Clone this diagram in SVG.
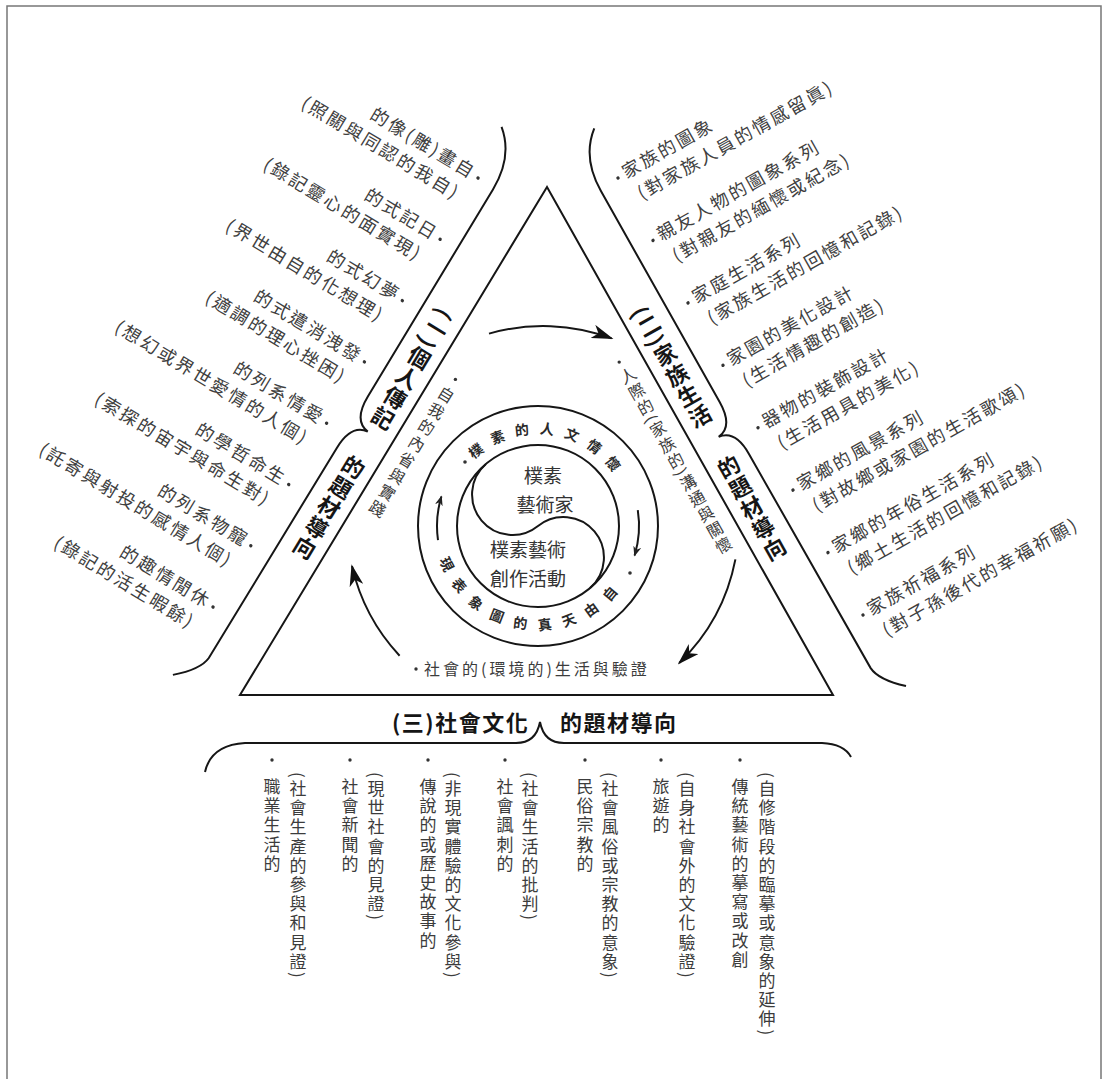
<svg xmlns="http://www.w3.org/2000/svg" width="1108" height="1079" viewBox="0 0 1108 1079">
<defs>
<style>
text{font-family:"Noto Sans CJK TC","Noto Sans CJK SC",sans-serif}
.lst{font-size:18px;fill:#404040;letter-spacing:2.5px}
.lbl{font-size:22px;font-weight:700;fill:#151515;letter-spacing:1.5px}
.vt{writing-mode:vertical-rl}
.col{font-size:17px;fill:#3c3c3c;letter-spacing:2.2px}
.in{font-size:16px;fill:#3c3c3c}
.ring{font-size:14px;font-weight:700;fill:#2a2a2a}
.ctr{font-size:19px;fill:#333;text-anchor:middle}
.ln{fill:none;stroke:#161616;stroke-width:2}
.dot{fill:#333}
</style>
<marker id="ah" viewBox="0 0 22 14" refX="20" refY="7" markerWidth="22" markerHeight="14" markerUnits="userSpaceOnUse" orient="auto"><path d="M0,0 L22,7 L0,14 L6,7 Z" fill="#111"/></marker>
<marker id="ahs" viewBox="0 0 10 8" refX="9" refY="4" markerWidth="10" markerHeight="8" markerUnits="userSpaceOnUse" orient="auto"><path d="M0,0 L10,4 L0,8 L3,4 Z" fill="#222"/></marker>
<path id="ringTop" d="M474.1,459.8 A92,92 0 0 1 617.7,480"/>
<path id="ringBot" d="M439.7,559.9 A104,104 0 0 0 625.2,582.6"/>
<path id="brace" d="M-28,70 Q-8,45 30,45 L272,45 Q300,45 302,27 Q304,45 332,45 L578,46 Q592,47 611,68"/>
</defs>

<g id="frame"><path d="M7,1079 V6 H1101 V1079" fill="none" stroke="#777" stroke-width="1.5"/></g>

<g id="connectors">
<polygon id="triangle" points="547,187 240,695 833,695" class="ln" stroke-width="2.6" stroke-linejoin="miter"/>
<use href="#brace" class="ln" transform="matrix(-0.517,0.856,-0.856,-0.517,547,187)"/>
<use href="#brace" class="ln" transform="matrix(0.4906,0.8714,0.8714,-0.4906,547,187)"/>
<path class="ln" d="M205,772 Q211,745 245,743 L516,743 Q536,743 540,722 Q544,743 564,743 L822,743 Q844,744 851,757"/>
<path class="ln" d="M489,333.6 A196,196 0 0 1 611.6,338.4" marker-end="url(#ah)"/>
<path class="ln" d="M735.4,559.4 A196,196 0 0 1 679.2,663" marker-end="url(#ah)"/>
<path class="ln" d="M399.6,655.7 A196,196 0 0 1 352,566.1" marker-end="url(#ah)"/>
<path class="ln" stroke-width="1.4" d="M438,540.1 A101,101 0 0 1 441.4,496.5" marker-end="url(#ahs)"/>
<path class="ln" stroke-width="1.4" d="M637.8,510.2 A101,101 0 0 1 634.6,555.5" marker-end="url(#ahs)"/>
</g>

<g id="center-circle">
<circle cx="538" cy="526" r="120" class="ln"/>
<circle cx="538" cy="526" r="81" class="ln"/>
<path class="ln" d="M485.9,464 A40.5,40.5 0 0 0 538,526 A40.5,40.5 0 0 1 590.1,588"/>
<text class="ring" letter-spacing="10"><textPath href="#ringTop">樸素的人文情懷</textPath></text>
<text class="ring" letter-spacing="11.8"><textPath href="#ringBot">現表象圖的真天由自</textPath></text>
<circle cx="465" cy="462" r="1.8" class="dot"/>
<circle cx="630" cy="573" r="1.8" class="dot"/>
<text class="ctr" x="543" y="483">樸素</text>
<text class="ctr" x="545" y="512">藝術家</text>
<text class="ctr" x="528" y="557">樸素藝術</text>
<text class="ctr" x="528" y="586">創作活動</text>
</g>

<g id="inner-left">
<circle cx="455.4" cy="379.4" r="1.7" class="dot"/>
<g transform="translate(450.2,387.9) rotate(31.1)"><text class="in vt" x="0" y="0" letter-spacing="3">自我的內省與實踐</text></g>
</g>
<g id="inner-right">
<circle cx="619.2" cy="362.1" r="1.7" class="dot"/>
<g transform="translate(624,368.6) rotate(-29.4)"><text class="in vt" x="0" y="0" letter-spacing="2">人際的(家族的)溝通與關懷</text></g>
</g>
<g id="inner-bottom">
<circle cx="416" cy="669" r="1.7" class="dot"/>
<text class="in" x="424" y="675" font-size="17" letter-spacing="3">社會的(環境的)生活與驗證</text>
</g>

<g id="label-personal">
<g transform="translate(447.3,311.3) rotate(31.1)"><text class="lbl vt" x="0" y="0">(一)個人傳記</text></g>
<g transform="translate(358.9,457.7) rotate(31.1)"><text class="lbl vt" x="0" y="0">的題材導向</text></g>
</g>
<g id="label-family">
<g transform="translate(638.9,307.4) rotate(-29.4)"><text class="lbl vt" x="0" y="0">(二)家族生活</text></g>
<g transform="translate(723.3,457.3) rotate(-29.4)"><text class="lbl vt" x="0" y="0">的題材導向</text></g>
</g>
<g id="label-social">
<text class="lbl" x="392" y="731" letter-spacing="0">(三)社會文化</text>
<text class="lbl" x="560" y="731" letter-spacing="0">的題材導向</text>
</g>

<g id="list-left">
<g transform="translate(478,178) rotate(31.1)"><circle r="1.7" class="dot"/><text class="lst" x="-5" y="5" text-anchor="end">的像(雕)畫自</text><text class="lst" x="-8" y="31" text-anchor="end">(照關與同認的我自)</text></g>
<g transform="translate(440.1,239.3) rotate(31.1)"><circle r="1.7" class="dot"/><text class="lst" x="-5" y="5" text-anchor="end">的式記日</text><text class="lst" x="-8" y="31" text-anchor="end">(錄記靈心的面實現)</text></g>
<g transform="translate(402.3,300.6) rotate(31.1)"><circle r="1.7" class="dot"/><text class="lst" x="-5" y="5" text-anchor="end">的式幻夢</text><text class="lst" x="-8" y="31" text-anchor="end">(界世由自的化想理)</text></g>
<g transform="translate(364.4,361.9) rotate(31.1)"><circle r="1.7" class="dot"/><text class="lst" x="-5" y="5" text-anchor="end">的式遣消洩發</text><text class="lst" x="-8" y="31" text-anchor="end">(適調的理心挫困)</text></g>
<g transform="translate(326.6,423.2) rotate(31.1)"><circle r="1.7" class="dot"/><text class="lst" x="-5" y="5" text-anchor="end">的列系情愛</text><text class="lst" x="-8" y="31" text-anchor="end">(想幻或界世愛情的人個)</text></g>
<g transform="translate(288.7,484.5) rotate(31.1)"><circle r="1.7" class="dot"/><text class="lst" x="-5" y="5" text-anchor="end">的學哲命生</text><text class="lst" x="-8" y="31" text-anchor="end">(索探的宙宇與命生對)</text></g>
<g transform="translate(250.8,545.7) rotate(31.1)"><circle r="1.7" class="dot"/><text class="lst" x="-5" y="5" text-anchor="end">的列系物寵</text><text class="lst" x="-8" y="31" text-anchor="end">(託寄與射投的感情人個)</text></g>
<g transform="translate(213,607) rotate(31.1)"><circle r="1.7" class="dot"/><text class="lst" x="-5" y="5" text-anchor="end">的趣情閒休</text><text class="lst" x="-8" y="31" text-anchor="end">(錄記的活生暇餘)</text></g>
</g>

<g id="list-right">
<g transform="translate(618,178) rotate(-29.4)"><circle r="1.7" class="dot"/><text class="lst" x="7" y="5">家族的圖象</text><text class="lst" x="10" y="31">(對家族人員的情感留眞)</text></g>
<g transform="translate(653,240.4) rotate(-29.4)"><circle r="1.7" class="dot"/><text class="lst" x="7" y="5">親友人物的圖象系列</text><text class="lst" x="10" y="31">(對親友的緬懷或紀念)</text></g>
<g transform="translate(688,302.9) rotate(-29.4)"><circle r="1.7" class="dot"/><text class="lst" x="7" y="5">家庭生活系列</text><text class="lst" x="10" y="31">(家族生活的回憶和記錄)</text></g>
<g transform="translate(723,365.3) rotate(-29.4)"><circle r="1.7" class="dot"/><text class="lst" x="7" y="5">家園的美化設計</text><text class="lst" x="10" y="31">(生活情趣的創造)</text></g>
<g transform="translate(758,427.7) rotate(-29.4)"><circle r="1.7" class="dot"/><text class="lst" x="7" y="5">器物的裝飾設計</text><text class="lst" x="10" y="31">(生活用具的美化)</text></g>
<g transform="translate(793,490.1) rotate(-29.4)"><circle r="1.7" class="dot"/><text class="lst" x="7" y="5">家鄉的風景系列</text><text class="lst" x="10" y="31">(對故鄉或家園的生活歌頌)</text></g>
<g transform="translate(828,552.6) rotate(-29.4)"><circle r="1.7" class="dot"/><text class="lst" x="7" y="5">家鄉的年俗生活系列</text><text class="lst" x="10" y="31">(鄉土生活的回憶和記錄)</text></g>
<g transform="translate(863,615) rotate(-29.4)"><circle r="1.7" class="dot"/><text class="lst" x="7" y="5">家族祈福系列</text><text class="lst" x="10" y="31">(對子孫後代的幸福祈願)</text></g>
</g>

<g id="list-bottom">
<circle cx="272" cy="760" r="1.7" class="dot"/><text class="col vt" x="272" y="778">職業生活的</text>
<text class="col vt" x="298" y="772">(社會生產的參與和見證)</text>
<circle cx="350" cy="760" r="1.7" class="dot"/><text class="col vt" x="350" y="778">社會新聞的</text>
<text class="col vt" x="376" y="772">(現世社會的見證)</text>
<circle cx="428" cy="760" r="1.7" class="dot"/><text class="col vt" x="428" y="778">傳說的或歷史故事的</text>
<text class="col vt" x="453" y="772">(非現實體驗的文化參與)</text>
<circle cx="505" cy="760" r="1.7" class="dot"/><text class="col vt" x="505" y="778">社會諷刺的</text>
<text class="col vt" x="530" y="772">(社會生活的批判)</text>
<circle cx="585" cy="760" r="1.7" class="dot"/><text class="col vt" x="585" y="778">民俗宗教的</text>
<text class="col vt" x="610" y="772">(社會風俗或宗教的意象)</text>
<circle cx="661" cy="760" r="1.7" class="dot"/><text class="col vt" x="661" y="778">旅遊的</text>
<text class="col vt" x="687" y="772">(自身社會外的文化驗證)</text>
<circle cx="740" cy="760" r="1.7" class="dot"/><text class="col vt" x="740" y="778">傳統藝術的摹寫或改創</text>
<text class="col vt" x="767" y="772">(自修階段的臨摹或意象的延伸)</text>
</g>
</svg>
